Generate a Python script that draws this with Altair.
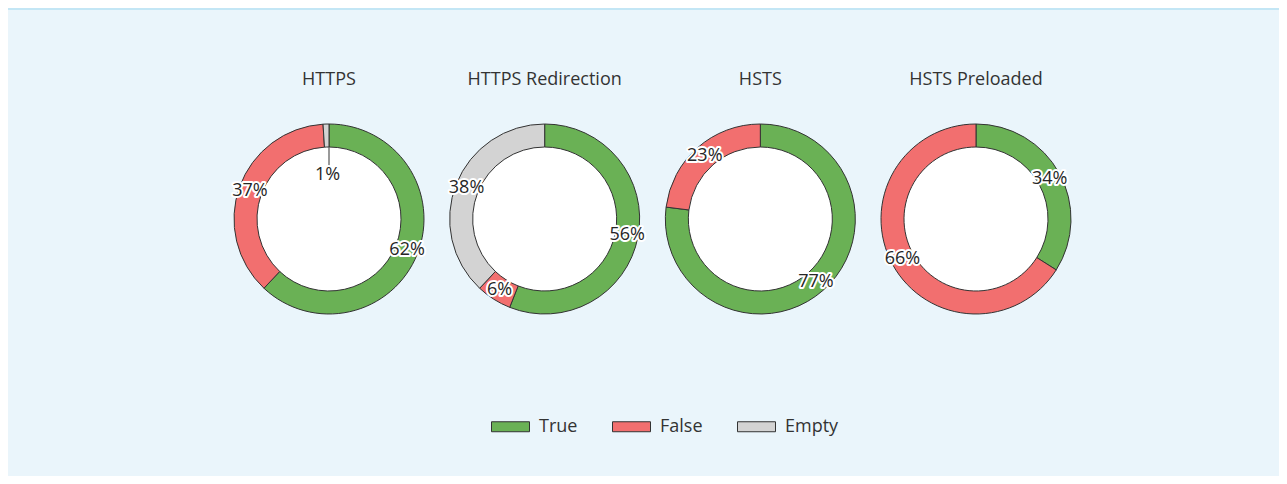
import altair as alt
import pandas as pd

charts = ["HTTPS", "HTTPS Redirection", "HSTS", "HSTS Preloaded"]
categories = ["True", "False", "Empty"]
true_pct = [62, 56, 77, 34]
false_pct = [37, 6, 23, 66]
empty_pct = [1, 38, 0, 0]
colors = ["#6ab155", "#f26f6f", "#d3d3d3"]

rows = []
for i, c in enumerate(charts):
    for j, (cat, vals) in enumerate(zip(categories, [true_pct, false_pct, empty_pct])):
        if vals[i] > 0:
            rows.append({"chart": c, "category": cat, "value": vals[i], "order": j})
df = pd.DataFrame(rows)

FONT = "Open Sans"
W, H = 1271, 468

xenc = alt.X("chart:N", scale=alt.Scale(type="point", domain=charts, range=[321, 968], padding=0), axis=None)
tscale = alt.Scale(domain=[0, 100])

base = alt.Chart(df).transform_stack(
    stack="value", groupby=["chart"], as_=["v0", "v1"], sort=[alt.SortField("order")]
).transform_calculate(mid="(datum.v0 + datum.v1) / 2", label="datum.value + '%'")

arcs = base.mark_arc(outerRadius=95, innerRadius=72, stroke="#333333", strokeWidth=1).encode(
    x=xenc,
    y=alt.value(211),
    theta=alt.Theta("v0:Q", scale=tscale),
    theta2="v1:Q",
    color=alt.Color(
        "category:N",
        scale=alt.Scale(domain=categories, range=colors),
        sort=categories,
        legend=alt.Legend(
            title=None, orient="none", direction="horizontal", legendX=483, legendY=399,
            symbolType="M-1,-0.263L1,-0.263L1,0.263L-1,0.263Z", symbolSize=1444,
            symbolStrokeColor="#333333", symbolStrokeWidth=1, symbolOpacity=1,
            labelFont=FONT, labelFontSize=18, labelColor="#333333", labelOffset=9,
            columnPadding=32,
        ),
    ),
    order=alt.Order("order:Q"),
)

big = base.transform_filter("datum.value >= 3")
small = base.transform_filter("datum.value < 3")

def labels(src, r):
    halo = src.mark_text(radius=r, fontSize=18, font=FONT, stroke="white", strokeWidth=4,
                         strokeJoin="round", fill="white").encode(
        x=xenc, y=alt.value(211), theta=alt.Theta("mid:Q", scale=tscale), text="label:N")
    txt = src.mark_text(radius=r, fontSize=18, font=FONT, fill="#262626").encode(
        x=xenc, y=alt.value(211), theta=alt.Theta("mid:Q", scale=tscale), text="label:N")
    return halo, txt

bh, bt = labels(big, 84)
sh, st = labels(small, 44)

holes = alt.Chart(pd.DataFrame({"chart": charts})).mark_point(
    shape="circle", size=20736, filled=True, fill="white", opacity=1, strokeWidth=0).encode(
    x=xenc, y=alt.value(211))

leader = small.mark_rule(stroke="#555555", strokeWidth=1.2).encode(
    x=xenc, y=alt.value(139), y2=alt.value(159))

titles = alt.Chart(pd.DataFrame({"chart": charts})).mark_text(
    fontSize=18, font=FONT, fill="#333333").encode(x=xenc, y=alt.value(72), text="chart:N")

band = alt.Chart(pd.DataFrame({"a": [0]})).mark_rect(color="#c3e6f5").encode(
    x=alt.value(0), x2=alt.value(W), y=alt.value(0), y2=alt.value(2))

chart = alt.layer(band, holes, arcs, leader, bh, bt, sh, st, titles).properties(
    width=W, height=H, padding=0, autosize="none", background="#eaf5fb"
).configure_view(stroke=None)

chart.save("out.html", embed_options={"renderer": "svg", "actions": False})
